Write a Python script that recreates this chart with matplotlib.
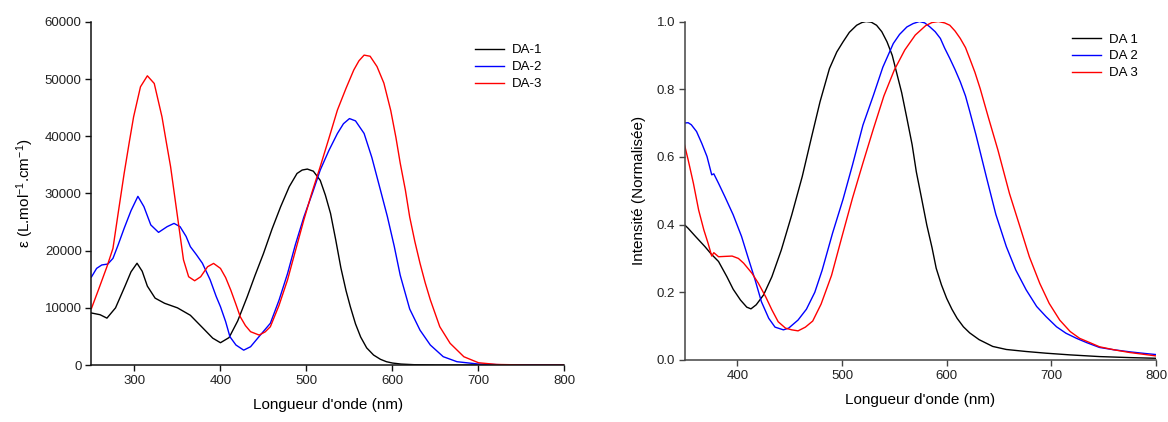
import matplotlib
matplotlib.use("Agg")
import matplotlib.pyplot as plt

plt.rcParams['font.family'] = ['Liberation Sans', 'DejaVu Sans']
plt.rcParams['mathtext.fontset'] = 'custom'
plt.rcParams['mathtext.rm'] = 'Liberation Sans'
plt.rcParams['mathtext.it'] = 'Liberation Sans:italic'

# ---------------- Absorption (left) ----------------
abs_da1_nm = [250, 260, 268, 278, 289, 296, 303, 309, 315, 324, 335, 350, 365, 380, 391, 400,
              410, 420, 431, 440, 450, 460, 470, 480, 489, 495, 501, 508, 516, 522, 528, 534,
              540, 546, 551, 557, 563, 570, 578, 586, 593, 600, 610, 625, 650, 700, 800]
abs_da1 = [9100, 8800, 8200, 10000, 13800, 16300, 17800, 16400, 13800, 11700, 10800, 10000,
           8700, 6400, 4700, 3900, 4800, 7700, 11900, 15600, 19500, 23800, 27700, 31200, 33500,
           34100, 34270, 33900, 32300, 29700, 26500, 21900, 17000, 13000, 10200, 7200, 4900,
           3000, 1750, 1000, 580, 350, 170, 60, 10, 0, 0]

abs_da2_nm = [250, 256, 262, 269, 275, 281, 288, 296, 304, 311, 319, 328, 338, 346, 353, 360,
              365, 372, 379, 388, 395, 400, 406, 411, 418, 427, 435, 445, 458, 468, 478, 487,
              497, 507, 516, 526, 536, 543, 550, 557, 567, 576, 586, 594, 602, 609, 620, 632,
              644, 659, 675, 700, 730, 800]
abs_da2 = [15400, 16900, 17500, 17660, 18650, 21000, 23900, 27000, 29500, 27700, 24500, 23200,
           24200, 24770, 24200, 22500, 20700, 19300, 17800, 14900, 12000, 10200, 7600, 4950,
           3500, 2600, 3200, 5000, 7300, 11300, 16000, 21000, 25900, 30100, 34100, 37500, 40500,
           42200, 43100, 42700, 40500, 36300, 30600, 26000, 20800, 15700, 9800, 6100, 3500,
           1460, 580, 170, 40, 0]

abs_da3_nm = [250, 258, 268, 275, 281, 288, 294, 299, 307, 315, 323, 332, 337, 342, 350, 357,
              363, 370, 377, 385, 392, 400, 406, 412, 418, 423, 429, 435, 445, 452, 458, 468,
              478, 487, 497, 506, 516, 526, 536, 546, 555, 561, 567, 574, 582, 590, 598, 604,
              609, 615, 620, 626, 632, 638, 644, 655, 667, 683, 700, 721, 760, 800]
abs_da3 = [9900, 13100, 17200, 20400, 26500, 33500, 39000, 43400, 48660, 50580, 49240, 43400,
           39000, 34700, 26000, 18400, 15440, 14740, 15440, 17190, 17770, 16900, 15300, 13100,
           10600, 8450, 6900, 5830, 5240, 5800, 6700, 10400, 14900, 19900, 25400, 30000, 34700,
           39600, 44600, 48400, 51600, 53200, 54200, 54000, 52200, 49300, 44500, 39800, 35300,
           30600, 25900, 21600, 17800, 14400, 11400, 6700, 3800, 1450, 400, 100, 0, 0]

# ---------------- Emission (right) ----------------
em_da1_nm = [349, 353, 360, 369, 375, 382, 390, 396, 403, 409, 413, 418, 425, 433, 442, 452,
             462, 471, 479, 488, 495, 501, 507, 514, 519, 523, 528, 533, 538, 543, 548, 552,
             557, 562, 567, 571, 576, 581, 586, 590, 595, 600, 605, 610, 616, 622, 631, 644,
             657, 676, 695, 718, 746, 775, 800]
em_da1 = [0.401, 0.389, 0.365, 0.335, 0.313, 0.291, 0.246, 0.209, 0.177, 0.156, 0.151, 0.163,
          0.192, 0.246, 0.325, 0.429, 0.542, 0.660, 0.763, 0.861, 0.910, 0.940, 0.968, 0.989,
          0.997, 1.0, 0.998, 0.989, 0.970, 0.940, 0.900, 0.851, 0.790, 0.714, 0.636, 0.556,
          0.478, 0.399, 0.332, 0.271, 0.222, 0.182, 0.150, 0.123, 0.098, 0.080, 0.060, 0.040,
          0.031, 0.025, 0.020, 0.015, 0.010, 0.007, 0.005]

em_da2_nm = [349, 353, 356, 361, 366, 371, 375.5, 377.5, 382, 388, 396, 404, 410, 417, 423,
             430, 436, 444, 449, 458, 466, 474, 481, 491, 501, 510, 520, 530, 539, 549, 555, 562,
             568, 574, 579, 584, 589, 594, 598, 603, 608, 613, 618, 622, 628, 632, 638, 647, 657,
             666, 676, 686, 695, 705, 714, 724, 734, 746, 760, 775, 790, 800]
em_da2 = [0.700, 0.701, 0.695, 0.675, 0.640, 0.601, 0.547, 0.550, 0.522, 0.483, 0.429, 0.365,
          0.305, 0.236, 0.172, 0.123, 0.097, 0.089, 0.094, 0.118, 0.150, 0.200, 0.265, 0.375,
          0.475, 0.576, 0.694, 0.782, 0.865, 0.935, 0.962, 0.984, 0.994, 1.0, 0.996, 0.984,
          0.970, 0.950, 0.922, 0.891, 0.858, 0.822, 0.780, 0.735, 0.665, 0.615, 0.540, 0.430,
          0.335, 0.266, 0.207, 0.158, 0.128, 0.098, 0.079, 0.064, 0.051, 0.037, 0.030, 0.024,
          0.019, 0.016]

em_da3_nm = [349, 353, 358, 363, 368, 372, 375.5, 377.5, 382, 388, 395, 401, 406, 414, 420,
             427, 433, 439, 446, 452, 458, 465, 472, 480, 490, 500, 510, 520, 530, 540, 550, 560,
             570, 580, 586, 592, 598, 603, 608, 613, 618, 622, 627, 632, 640, 649, 660,
             670, 679, 689, 698, 708, 718, 727, 737, 746, 760, 775, 790, 800]
em_da3 = [0.642, 0.591, 0.522, 0.443, 0.384, 0.345, 0.307, 0.317, 0.305, 0.306, 0.307, 0.300,
          0.286, 0.256, 0.227, 0.187, 0.148, 0.113, 0.094, 0.089, 0.086, 0.097, 0.115, 0.165,
          0.250, 0.365, 0.478, 0.582, 0.683, 0.780, 0.857, 0.916, 0.960, 0.988, 0.997, 1.0,
          0.996, 0.989, 0.972, 0.950, 0.923, 0.891, 0.850, 0.802, 0.715, 0.620, 0.492, 0.394,
          0.305, 0.226, 0.167, 0.118, 0.084, 0.064, 0.051, 0.039, 0.030, 0.022, 0.016, 0.012]

abs_labels = ['DA-1', 'DA-2', 'DA-3']
em_labels = ['DA 1', 'DA 2', 'DA 3']
colors = ['black', '#0000ff', '#ff0000']

fig = plt.figure(figsize=(11.68, 4.22), dpi=100)
ax1 = fig.add_axes([0.0783, 0.135, 0.405, 0.813])
ax2 = fig.add_axes([0.5865, 0.147, 0.4032, 0.802])

for ax, sc in ((ax1, '#111111'), (ax2, '#444444')):
    for s in ('top', 'right'):
        ax.spines[s].set_visible(False)
    for s in ('left', 'bottom'):
        ax.spines[s].set_linewidth(1.1)
        ax.spines[s].set_color(sc)
    ax.tick_params(direction='out', length=4, width=1, labelsize=9.5, color=sc,
                   labelcolor='#222222', pad=3)

for xs, ys, c, lab in zip([abs_da1_nm, abs_da2_nm, abs_da3_nm], [abs_da1, abs_da2, abs_da3],
                          colors, abs_labels):
    ax1.plot(xs, ys, color=c, lw=1.0, label=lab)
ax1.set_xlim(250, 800)
ax1.set_ylim(0, 60000)
ax1.set_xticks([300, 400, 500, 600, 700, 800])
ax1.set_yticks([0, 10000, 20000, 30000, 40000, 50000, 60000])
ax1.set_xlabel("Longueur d'onde (nm)", fontsize=11, labelpad=8)
ax1.set_ylabel(r"ε (L.mol$^{\mathregular{-1}}$.cm$^{\mathregular{-1}}$)", fontsize=11, labelpad=6)
ax1.legend(loc='upper left', bbox_to_anchor=(0.81, 0.935), frameon=False, fontsize=9.5,
           handlelength=2.2, handletextpad=0.6, labelspacing=0.35, borderpad=0, borderaxespad=0)

for xs, ys, c, lab in zip([em_da1_nm, em_da2_nm, em_da3_nm], [em_da1, em_da2, em_da3],
                          colors, em_labels):
    ax2.plot(xs, ys, color=c, lw=1.0, label=lab)
ax2.set_xlim(350, 800)
ax2.set_ylim(0, 1.0)
ax2.set_xticks([400, 500, 600, 700, 800])
ax2.set_yticks([0.0, 0.2, 0.4, 0.6, 0.8, 1.0])
ax2.set_yticklabels(['0.0', '0.2', '0.4', '0.6', '0.8', '1.0'])
ax2.set_xlabel("Longueur d'onde (nm)", fontsize=11, labelpad=8)
ax2.set_ylabel("Intensité (Normalisée)", fontsize=11, labelpad=8)
ax2.legend(loc='upper left', bbox_to_anchor=(0.822, 0.965), frameon=False, fontsize=9.5,
           handlelength=2.2, handletextpad=0.6, labelspacing=0.35, borderpad=0, borderaxespad=0)

fig.savefig('out.png', dpi=100)
